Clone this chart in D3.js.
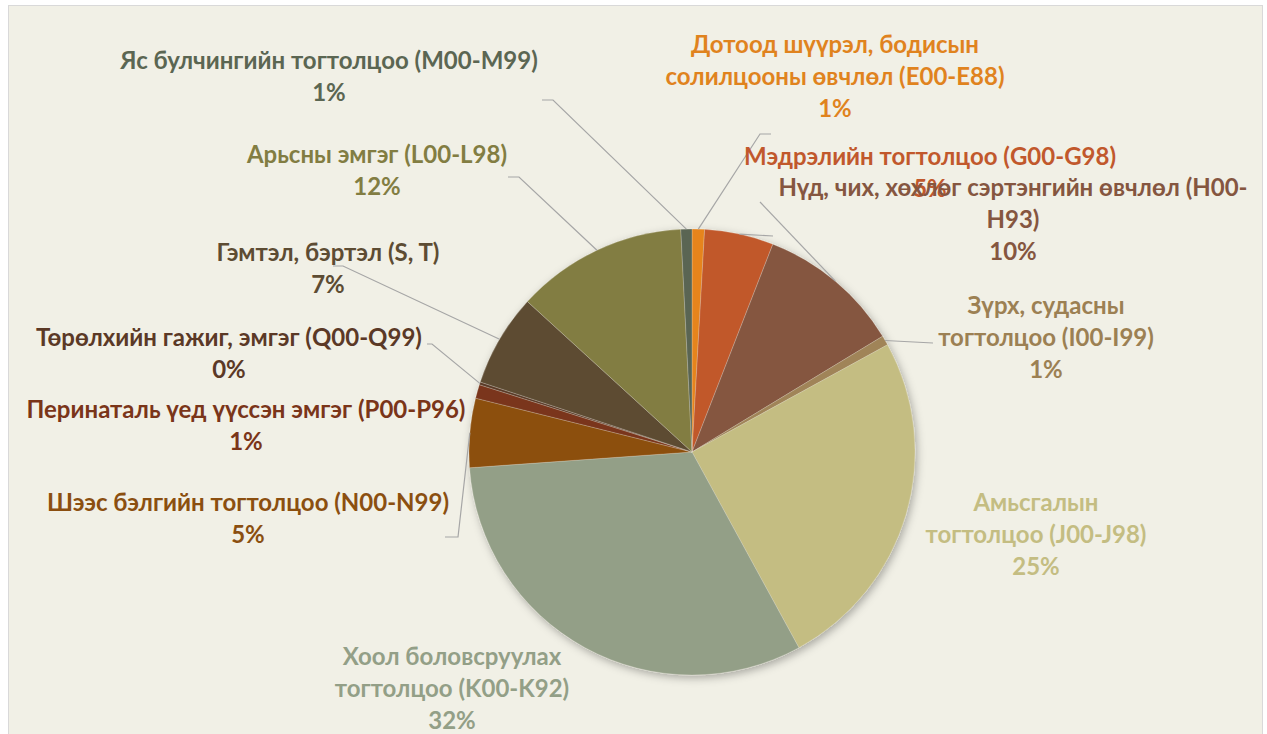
<!DOCTYPE html>
<html>
<head>
<meta charset="utf-8">
<script src="https://cdn.jsdelivr.net/npm/d3@7"></script>
<style>
  body { margin: 0; background: #fff; }
  text { font-family: "Lato", "Open Sans", sans-serif; font-weight: bold; }
</style>
</head>
<body>
<svg id="chart" width="1267" height="734"></svg>
<script>
// slices in drawing order, clockwise from 12 o'clock
const categories = [
  "Дотоод шүүрэл, бодисын\nсолилцооны өвчлөл (E00-E88)",
  "Мэдрэлийн тогтолцоо (G00-G98)",
  "Нүд, чих, хөхлөг сэртэнгийн өвчлөл (H00-\nH93)",
  "Зүрх, судасны\nтогтолцоо (I00-I99)",
  "Амьсгалын\nтогтолцоо (J00-J98)",
  "Хоол боловсруулах\nтогтолцоо (K00-K92)",
  "Шээс бэлгийн тогтолцоо (N00-N99)",
  "Перинаталь үед үүссэн эмгэг (P00-P96)",
  "Төрөлхийн гажиг, эмгэг (Q00-Q99)",
  "Гэмтэл, бэртэл (S, T)",
  "Арьсны эмгэг (L00-L98)",
  "Яс булчингийн тогтолцоо (M00-M99)"
];
const shares = [0.9, 5.0, 10.4, 0.7, 25.0, 31.8, 5.0, 1.0, 0.2, 6.7, 12.4, 0.8];

const sliceColors = ["#E6841C", "#C1582C", "#855640", "#A08458", "#C4BD82", "#939F87",
  "#8C4F0D", "#7A361A", "#5A3A28", "#5D4C33", "#827D42", "#5A6553"];
const textColors = ["#E0831E", "#C1582C", "#855640", "#9C8053", "#C4BD82", "#939F87",
  "#8B4F10", "#7A3519", "#5B3926", "#5D4C33", "#827D42", "#5B6652"];

// label centre x / first line y, and leader line points (pie edge is added first)
const labelPos = [
  { x: 835, y: 45, lead: [[760, 134], [771, 134]] },
  { x: 930, y: 157, lead: [[773, 236]] },
  { x: 1013, y: 188, lead: [[760, 202]] },
  { x: 1046, y: 306, lead: [[933, 343]] },
  { x: 1036, y: 503, lead: null },
  { x: 452, y: 657, lead: null },
  { x: 248, y: 503, lead: [[458, 537], [445, 537]] },
  { x: 246, y: 410, lead: null },
  { x: 229, y: 338, lead: [[432, 344], [427, 344]] },
  { x: 328, y: 253, lead: [[343, 266], [333, 266]] },
  { x: 377, y: 155, lead: [[519, 177], [508, 177]] },
  { x: 329, y: 61, lead: [[553, 100], [542, 100]] }
];

const svg = d3.select("#chart");
const cx = 692, cy = 452, radius = 223;
const lineH = 32;

svg.append("rect")
  .attr("x", 8.5).attr("y", 5.5)
  .attr("width", 1254).attr("height", 760)
  .attr("fill", "#F1F0E6")
  .attr("stroke", "#D9D9D9");

const defs = svg.append("defs");
const shadow = defs.append("filter").attr("id", "shadow")
  .attr("x", "-20%").attr("y", "-20%").attr("width", "140%").attr("height", "140%");
shadow.append("feDropShadow")
  .attr("dx", 2).attr("dy", 3).attr("stdDeviation", 4)
  .attr("flood-color", "#000").attr("flood-opacity", 0.3);

const total = d3.sum(shares);
const pct = d3.format(".0%");
const pie = d3.pie().sort(null).value((d) => d);
const arcs = pie(shares);
const arc = d3.arc().innerRadius(0).outerRadius(radius);
const edge = d3.arc().innerRadius(radius).outerRadius(radius);

const g = svg.append("g").attr("transform", `translate(${cx},${cy})`);

g.append("g")
  .attr("filter", "url(#shadow)")
  .selectAll("path")
  .data(arcs)
  .enter()
  .append("path")
  .attr("d", arc)
  .attr("fill", (d, i) => sliceColors[i])
  .attr("stroke", "#F1F0E6")
  .attr("stroke-width", 0.4)
  .attr("stroke-opacity", 0.6);

// leader lines
const lineGen = d3.line();
arcs.forEach((d, i) => {
  const lp = labelPos[i];
  if (!lp.lead) return;
  const c = edge.centroid(d);
  const pts = [[cx + c[0], cy + c[1]]].concat(lp.lead);
  svg.append("path")
    .attr("d", lineGen(pts))
    .attr("fill", "none")
    .attr("stroke", "#A6A6A6")
    .attr("stroke-width", 1.2);
});

// labels
arcs.forEach((d, i) => {
  const lp = labelPos[i];
  const lines = categories[i].split("\n").concat([pct(shares[i] / total)]);
  const t = svg.append("text")
    .attr("text-anchor", "middle")
    .attr("fill", textColors[i])
    .style("font-size", "24px");
  lines.forEach((ln, k) => {
    t.append("tspan")
      .attr("x", lp.x)
      .attr("y", lp.y + k * lineH)
      .attr("dy", "0.35em")
      .text(ln);
  });
});
</script>
</body>
</html>
